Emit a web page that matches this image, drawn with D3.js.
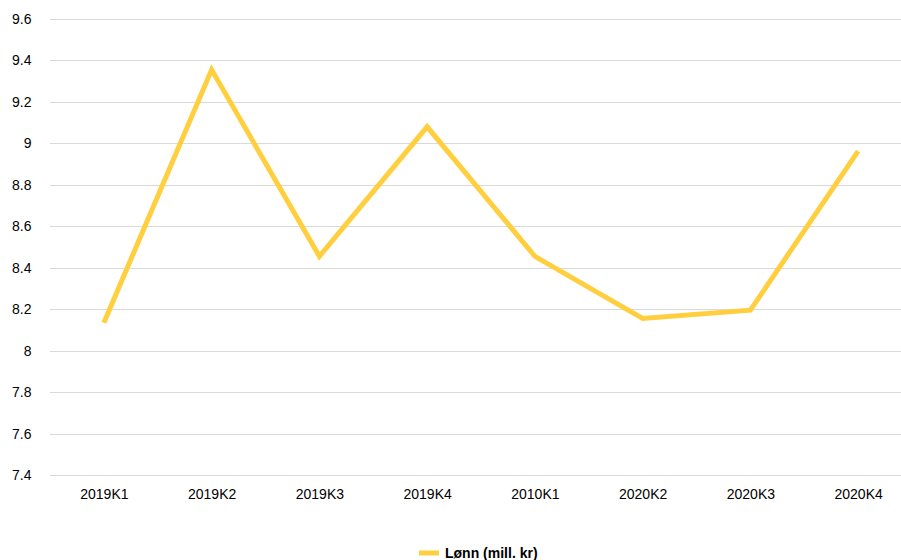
<!DOCTYPE html>
<html><head><meta charset="utf-8">
<script src="https://cdn.jsdelivr.net/npm/d3@7"></script>
<style>body{margin:0;background:#fff;} svg{display:block;font-family:"Liberation Sans",Arial,sans-serif;}</style>
</head><body>
<svg id="c" width="901" height="560"></svg>
<script>
const categories = ["2019K1","2019K2","2019K3","2019K4","2010K1","2020K2","2020K3","2020K4"];
const values = [8.135, 9.355, 8.455, 9.08, 8.455, 8.155, 8.195, 8.963];
const yTicks = [7.4,7.6,7.8,8,8.2,8.4,8.6,8.8,9,9.2,9.4,9.6];
const seriesName = "Lønn (mill. kr)";

const svg = d3.select("#c");
const x = d3.scalePoint().domain(categories).range([50, 912]).padding(0.5);
const y = d3.scaleLinear().domain([7.4, 9.6]).range([475, 19]);

const grid = svg.append("g");
grid.selectAll("line").data(yTicks).join("line")
  .attr("x1", 50).attr("x2", 901)
  .attr("y1", d => Math.round(y(d)) + 0.5).attr("y2", d => Math.round(y(d)) + 0.5)
  .attr("stroke", "#d9d9d9").attr("stroke-width", 1);

const yAxis = d3.axisLeft(y).tickValues(yTicks).tickSize(0).tickPadding(0).tickFormat(d3.format("~g"));
svg.append("g").attr("transform", "translate(31.5,0)").call(yAxis)
  .call(g => g.select(".domain").remove())
  .call(g => g.selectAll("text").attr("font-size", 14).attr("fill", "#000").attr("font-family", "Liberation Sans, Arial, sans-serif"));

const xAxis = d3.axisBottom(x).tickSize(0).tickPadding(0);
svg.append("g").attr("transform", "translate(0,489)").call(xAxis)
  .call(g => g.select(".domain").remove())
  .call(g => g.selectAll("text").attr("font-size", 14).attr("fill", "#000").attr("font-family", "Liberation Sans, Arial, sans-serif"));

const line = d3.line().x((d, i) => x(categories[i])).y(d => y(d));
svg.append("path").datum(values)
  .attr("d", line).attr("fill", "none")
  .attr("stroke", "#ffcf3f").attr("stroke-width", 5)
  .attr("stroke-linejoin", "miter").attr("stroke-linecap", "butt");

const leg = svg.append("g");
leg.append("line").attr("x1", 419).attr("x2", 439).attr("y1", 553).attr("y2", 553)
  .attr("stroke", "#ffcf3f").attr("stroke-width", 5);
leg.append("text").attr("x", 445).attr("y", 558).attr("font-size", 14).attr("font-weight", "bold")
  .attr("fill", "#000").text(seriesName);
</script>
</body></html>
